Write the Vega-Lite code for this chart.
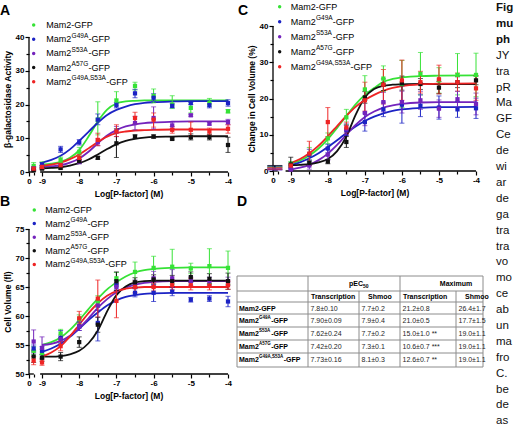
{
  "$schema": "https://vega.github.io/schema/vega-lite/v6.json",
  "background": "white",
  "padding": {"left": 0, "top": 0, "right": 0, "bottom": 0},
  "config": {
    "font": "Liberation Sans",
    "view": {"stroke": null},
    "axis": {
      "grid": false, "labelFont": "Liberation Sans", "titleFont": "Liberation Sans",
      "labelFontWeight": "bold", "titleFontWeight": "bold", "labelFontSize": 8, "titleFontSize": 8.5,
      "labelColor": "black", "titleColor": "black", "domainColor": "black", "tickColor": "black",
      "domainWidth": 1.3, "tickWidth": 1.2, "tickSize": 4, "labelPadding": 1,
      "labelOverlap": false, "labelFlush": false
    },
    "axisX": {"titlePadding": 4},
    "axisY": {"titlePadding": 3},
    "title": {"font": "Liberation Sans", "fontSize": 14, "fontWeight": "bold", "color": "black", "anchor": "start", "frame": "group"},
    "text": {"color": "black"}
  },
  "datasets": {
    "legend": [
      {"rank": 0, "variant": "Mam2-GFP", "base": "Mam2-GFP", "sup": "", "suffix": ""},
      {"rank": 1, "variant": "G49A", "base": "Mam2", "sup": "G49A", "suffix": "-GFP"},
      {"rank": 2, "variant": "S53A", "base": "Mam2", "sup": "S53A", "suffix": "-GFP"},
      {"rank": 3, "variant": "A57G", "base": "Mam2", "sup": "A57G", "suffix": "-GFP"},
      {"rank": 4, "variant": "G49A,S53A", "base": "Mam2", "sup": "G49A,S53A", "suffix": "-GFP"}
    ],
    "points": [
      {"panel": "A", "variant": "Mam2-GFP", "logP": -9.225, "mean": 1.8, "lo": 1.0, "hi": 2.8, "control": true},
      {"panel": "A", "variant": "Mam2-GFP", "logP": -9, "mean": 2.2, "lo": 1.5, "hi": 3.0},
      {"panel": "A", "variant": "Mam2-GFP", "logP": -8.5, "mean": 3.6, "lo": 2.8, "hi": 4.4},
      {"panel": "A", "variant": "Mam2-GFP", "logP": -8, "mean": 6.0, "lo": 4.8, "hi": 7.3},
      {"panel": "A", "variant": "Mam2-GFP", "logP": -7.5, "mean": 15.5, "lo": 11.0, "hi": 20.8},
      {"panel": "A", "variant": "Mam2-GFP", "logP": -7, "mean": 21.2, "lo": 19.8, "hi": 23.8},
      {"panel": "A", "variant": "Mam2-GFP", "logP": -6.5, "mean": 25.5, "lo": 24.3, "hi": 26.6},
      {"panel": "A", "variant": "Mam2-GFP", "logP": -6, "mean": 22.5, "lo": 20.5, "hi": 24.6},
      {"panel": "A", "variant": "Mam2-GFP", "logP": -5.5, "mean": 20.0, "lo": 18.8, "hi": 22.6},
      {"panel": "A", "variant": "Mam2-GFP", "logP": -5, "mean": 19.0, "lo": 17.5, "hi": 20.6},
      {"panel": "A", "variant": "Mam2-GFP", "logP": -4.5, "mean": 20.5, "lo": 19.5, "hi": 21.8},
      {"panel": "A", "variant": "Mam2-GFP", "logP": -4, "mean": 18.0, "lo": 17.5, "hi": 18.5},
      {"panel": "A", "variant": "G49A", "logP": -9.225, "mean": 1.0, "lo": 0.5, "hi": 1.5, "control": true},
      {"panel": "A", "variant": "G49A", "logP": -9, "mean": 2.3, "lo": 1.8, "hi": 2.8},
      {"panel": "A", "variant": "G49A", "logP": -8.5, "mean": 6.7, "lo": 5.8, "hi": 7.6},
      {"panel": "A", "variant": "G49A", "logP": -8, "mean": 8.8, "lo": 8.0, "hi": 9.6},
      {"panel": "A", "variant": "G49A", "logP": -7.5, "mean": 15.5, "lo": 14.0, "hi": 17.2},
      {"panel": "A", "variant": "G49A", "logP": -7, "mean": 19.8, "lo": 19.0, "hi": 20.6},
      {"panel": "A", "variant": "G49A", "logP": -6.5, "mean": 23.3, "lo": 22.0, "hi": 24.5},
      {"panel": "A", "variant": "G49A", "logP": -6, "mean": 22.0, "lo": 21.0, "hi": 23.2},
      {"panel": "A", "variant": "G49A", "logP": -5.5, "mean": 19.6, "lo": 19.0, "hi": 20.2},
      {"panel": "A", "variant": "G49A", "logP": -5, "mean": 20.4, "lo": 20.0, "hi": 20.8},
      {"panel": "A", "variant": "G49A", "logP": -4.5, "mean": 19.8, "lo": 19.0, "hi": 21.0},
      {"panel": "A", "variant": "G49A", "logP": -4, "mean": 20.4, "lo": 19.5, "hi": 21.4},
      {"panel": "A", "variant": "S53A", "logP": -9.225, "mean": 1.0, "lo": 0.6, "hi": 1.4, "control": true},
      {"panel": "A", "variant": "S53A", "logP": -9, "mean": 1.5, "lo": 1.1, "hi": 1.9},
      {"panel": "A", "variant": "S53A", "logP": -8.5, "mean": 2.0, "lo": 1.6, "hi": 2.4},
      {"panel": "A", "variant": "S53A", "logP": -8, "mean": 3.0, "lo": 2.4, "hi": 3.6},
      {"panel": "A", "variant": "S53A", "logP": -7.5, "mean": 8.8, "lo": 7.8, "hi": 9.8},
      {"panel": "A", "variant": "S53A", "logP": -7, "mean": 12.0, "lo": 10.5, "hi": 13.5},
      {"panel": "A", "variant": "S53A", "logP": -6.5, "mean": 14.5, "lo": 12.5, "hi": 16.5},
      {"panel": "A", "variant": "S53A", "logP": -6, "mean": 16.0, "lo": 12.8, "hi": 19.3},
      {"panel": "A", "variant": "S53A", "logP": -5.5, "mean": 13.8, "lo": 12.8, "hi": 14.8},
      {"panel": "A", "variant": "S53A", "logP": -5, "mean": 16.8, "lo": 16.5, "hi": 17.1},
      {"panel": "A", "variant": "S53A", "logP": -4.5, "mean": 14.3, "lo": 13.9, "hi": 14.7},
      {"panel": "A", "variant": "S53A", "logP": -4, "mean": 14.8, "lo": 14.0, "hi": 15.6},
      {"panel": "A", "variant": "A57G", "logP": -9.225, "mean": 0.5, "lo": 0.2, "hi": 0.8, "control": true},
      {"panel": "A", "variant": "A57G", "logP": -9, "mean": 1.0, "lo": 0.7, "hi": 1.3},
      {"panel": "A", "variant": "A57G", "logP": -8.5, "mean": 1.2, "lo": 0.9, "hi": 1.5},
      {"panel": "A", "variant": "A57G", "logP": -8, "mean": 3.2, "lo": 2.6, "hi": 3.8},
      {"panel": "A", "variant": "A57G", "logP": -7.5, "mean": 4.2, "lo": 3.8, "hi": 4.6},
      {"panel": "A", "variant": "A57G", "logP": -7, "mean": 8.5, "lo": 4.3, "hi": 12.8},
      {"panel": "A", "variant": "A57G", "logP": -6.5, "mean": 10.5, "lo": 10.0, "hi": 11.0},
      {"panel": "A", "variant": "A57G", "logP": -6, "mean": 10.5, "lo": 10.0, "hi": 11.0},
      {"panel": "A", "variant": "A57G", "logP": -5.5, "mean": 9.8, "lo": 9.5, "hi": 10.1},
      {"panel": "A", "variant": "A57G", "logP": -5, "mean": 10.3, "lo": 9.5, "hi": 11.3},
      {"panel": "A", "variant": "A57G", "logP": -4.5, "mean": 10.3, "lo": 9.5, "hi": 11.2},
      {"panel": "A", "variant": "A57G", "logP": -4, "mean": 8.0, "lo": 5.8, "hi": 10.3},
      {"panel": "A", "variant": "G49A,S53A", "logP": -9.225, "mean": 1.0, "lo": 0.5, "hi": 1.5, "control": true},
      {"panel": "A", "variant": "G49A,S53A", "logP": -9, "mean": 1.5, "lo": 1.0, "hi": 2.0},
      {"panel": "A", "variant": "G49A,S53A", "logP": -8.5, "mean": 2.0, "lo": 1.5, "hi": 2.5},
      {"panel": "A", "variant": "G49A,S53A", "logP": -8, "mean": 4.2, "lo": 3.2, "hi": 5.2},
      {"panel": "A", "variant": "G49A,S53A", "logP": -7.5, "mean": 9.5, "lo": 7.8, "hi": 11.5},
      {"panel": "A", "variant": "G49A,S53A", "logP": -7, "mean": 12.0, "lo": 10.5, "hi": 14.0},
      {"panel": "A", "variant": "G49A,S53A", "logP": -6.5, "mean": 16.0, "lo": 14.3, "hi": 17.7},
      {"panel": "A", "variant": "G49A,S53A", "logP": -6, "mean": 15.5, "lo": 13.3, "hi": 17.5},
      {"panel": "A", "variant": "G49A,S53A", "logP": -5.5, "mean": 12.5, "lo": 11.5, "hi": 13.5},
      {"panel": "A", "variant": "G49A,S53A", "logP": -5, "mean": 12.5, "lo": 10.5, "hi": 14.8},
      {"panel": "A", "variant": "G49A,S53A", "logP": -4.5, "mean": 12.0, "lo": 11.0, "hi": 13.0},
      {"panel": "A", "variant": "G49A,S53A", "logP": -4, "mean": 12.8, "lo": 11.5, "hi": 14.0},

      {"panel": "B", "variant": "Mam2-GFP", "logP": -9.225, "mean": 54.0, "lo": 53.3, "hi": 54.7, "control": true},
      {"panel": "B", "variant": "Mam2-GFP", "logP": -9, "mean": 53.6, "lo": 52.9, "hi": 54.3},
      {"panel": "B", "variant": "Mam2-GFP", "logP": -8.5, "mean": 57.0, "lo": 56.3, "hi": 57.7},
      {"panel": "B", "variant": "Mam2-GFP", "logP": -8, "mean": 59.5, "lo": 58.8, "hi": 60.2},
      {"panel": "B", "variant": "Mam2-GFP", "logP": -7.5, "mean": 62.5, "lo": 61.5, "hi": 63.5},
      {"panel": "B", "variant": "Mam2-GFP", "logP": -7, "mean": 66.5, "lo": 65.5, "hi": 67.5},
      {"panel": "B", "variant": "Mam2-GFP", "logP": -6.5, "mean": 67.6, "lo": 66.0, "hi": 69.3},
      {"panel": "B", "variant": "Mam2-GFP", "logP": -6, "mean": 68.3, "lo": 66.2, "hi": 70.3},
      {"panel": "B", "variant": "Mam2-GFP", "logP": -5.5, "mean": 68.5, "lo": 65.5, "hi": 71.5},
      {"panel": "B", "variant": "Mam2-GFP", "logP": -5, "mean": 68.2, "lo": 67.3, "hi": 69.1},
      {"panel": "B", "variant": "Mam2-GFP", "logP": -4.5, "mean": 68.6, "lo": 65.6, "hi": 71.6},
      {"panel": "B", "variant": "Mam2-GFP", "logP": -4, "mean": 68.3, "lo": 65.4, "hi": 71.2},
      {"panel": "B", "variant": "G49A", "logP": -9.225, "mean": 54.4, "lo": 53.8, "hi": 55.0, "control": true},
      {"panel": "B", "variant": "G49A", "logP": -9, "mean": 54.0, "lo": 53.3, "hi": 54.7},
      {"panel": "B", "variant": "G49A", "logP": -8.5, "mean": 56.2, "lo": 55.5, "hi": 57.5},
      {"panel": "B", "variant": "G49A", "logP": -8, "mean": 58.2, "lo": 57.5, "hi": 59.0},
      {"panel": "B", "variant": "G49A", "logP": -7.5, "mean": 58.8, "lo": 55.7, "hi": 61.0},
      {"panel": "B", "variant": "G49A", "logP": -7, "mean": 65.3, "lo": 64.5, "hi": 66.1},
      {"panel": "B", "variant": "G49A", "logP": -6.5, "mean": 64.0, "lo": 63.3, "hi": 64.7},
      {"panel": "B", "variant": "G49A", "logP": -6, "mean": 64.0, "lo": 62.5, "hi": 65.5},
      {"panel": "B", "variant": "G49A", "logP": -5.5, "mean": 64.2, "lo": 63.5, "hi": 64.9},
      {"panel": "B", "variant": "G49A", "logP": -5, "mean": 62.8, "lo": 62.4, "hi": 63.2},
      {"panel": "B", "variant": "G49A", "logP": -4.5, "mean": 63.0, "lo": 62.5, "hi": 63.5},
      {"panel": "B", "variant": "G49A", "logP": -4, "mean": 62.5, "lo": 61.6, "hi": 63.4},
      {"panel": "B", "variant": "S53A", "logP": -9.225, "mean": 55.6, "lo": 53.6, "hi": 57.6, "control": true},
      {"panel": "B", "variant": "S53A", "logP": -9, "mean": 54.5, "lo": 52.6, "hi": 56.4},
      {"panel": "B", "variant": "S53A", "logP": -8.5, "mean": 56.0, "lo": 55.3, "hi": 56.7},
      {"panel": "B", "variant": "S53A", "logP": -8, "mean": 58.2, "lo": 57.5, "hi": 58.9},
      {"panel": "B", "variant": "S53A", "logP": -7.5, "mean": 61.8, "lo": 61.0, "hi": 62.6},
      {"panel": "B", "variant": "S53A", "logP": -7, "mean": 65.0, "lo": 64.3, "hi": 65.7},
      {"panel": "B", "variant": "S53A", "logP": -6.5, "mean": 65.5, "lo": 64.8, "hi": 66.2},
      {"panel": "B", "variant": "S53A", "logP": -6, "mean": 66.5, "lo": 65.3, "hi": 67.7},
      {"panel": "B", "variant": "S53A", "logP": -5.5, "mean": 66.5, "lo": 65.0, "hi": 68.0},
      {"panel": "B", "variant": "S53A", "logP": -5, "mean": 66.0, "lo": 65.3, "hi": 66.7},
      {"panel": "B", "variant": "S53A", "logP": -4.5, "mean": 66.0, "lo": 65.3, "hi": 66.7},
      {"panel": "B", "variant": "S53A", "logP": -4, "mean": 66.0, "lo": 65.3, "hi": 66.7},
      {"panel": "B", "variant": "A57G", "logP": -9.225, "mean": 53.0, "lo": 52.0, "hi": 54.0, "control": true},
      {"panel": "B", "variant": "A57G", "logP": -9, "mean": 52.8, "lo": 52.2, "hi": 53.4},
      {"panel": "B", "variant": "A57G", "logP": -8.5, "mean": 53.0, "lo": 52.3, "hi": 53.7},
      {"panel": "B", "variant": "A57G", "logP": -8, "mean": 55.5, "lo": 54.6, "hi": 56.4},
      {"panel": "B", "variant": "A57G", "logP": -7.5, "mean": 58.5, "lo": 57.2, "hi": 59.8},
      {"panel": "B", "variant": "A57G", "logP": -7, "mean": 66.0, "lo": 64.4, "hi": 67.6},
      {"panel": "B", "variant": "A57G", "logP": -6.5, "mean": 65.8, "lo": 65.0, "hi": 66.6},
      {"panel": "B", "variant": "A57G", "logP": -6, "mean": 66.3, "lo": 65.5, "hi": 67.1},
      {"panel": "B", "variant": "A57G", "logP": -5.5, "mean": 66.0, "lo": 65.0, "hi": 67.0},
      {"panel": "B", "variant": "A57G", "logP": -5, "mean": 66.7, "lo": 65.8, "hi": 67.6},
      {"panel": "B", "variant": "A57G", "logP": -4.5, "mean": 66.4, "lo": 65.5, "hi": 67.3},
      {"panel": "B", "variant": "A57G", "logP": -4, "mean": 66.0, "lo": 64.6, "hi": 67.4},
      {"panel": "B", "variant": "G49A,S53A", "logP": -9.225, "mean": 52.3, "lo": 51.6, "hi": 53.0, "control": true},
      {"panel": "B", "variant": "G49A,S53A", "logP": -9, "mean": 52.0, "lo": 51.5, "hi": 52.6},
      {"panel": "B", "variant": "G49A,S53A", "logP": -8.5, "mean": 54.8, "lo": 54.0, "hi": 55.6},
      {"panel": "B", "variant": "G49A,S53A", "logP": -8, "mean": 59.6, "lo": 58.6, "hi": 60.8},
      {"panel": "B", "variant": "G49A,S53A", "logP": -7.5, "mean": 63.0, "lo": 59.8, "hi": 66.2},
      {"panel": "B", "variant": "G49A,S53A", "logP": -7, "mean": 62.6, "lo": 59.7, "hi": 65.5},
      {"panel": "B", "variant": "G49A,S53A", "logP": -6.5, "mean": 65.0, "lo": 64.0, "hi": 66.0},
      {"panel": "B", "variant": "G49A,S53A", "logP": -6, "mean": 65.0, "lo": 64.3, "hi": 65.7},
      {"panel": "B", "variant": "G49A,S53A", "logP": -5.5, "mean": 65.3, "lo": 64.5, "hi": 66.1},
      {"panel": "B", "variant": "G49A,S53A", "logP": -5, "mean": 65.3, "lo": 64.5, "hi": 66.5},
      {"panel": "B", "variant": "G49A,S53A", "logP": -4.5, "mean": 65.2, "lo": 64.5, "hi": 65.9},
      {"panel": "B", "variant": "G49A,S53A", "logP": -4, "mean": 65.3, "lo": 64.6, "hi": 66.0},

      {"panel": "C", "variant": "Mam2-GFP", "logP": -9.43, "mean": 0.8, "lo": 0.5, "hi": 1.1, "control": true},
      {"panel": "C", "variant": "Mam2-GFP", "logP": -9, "mean": 1.8, "lo": 1.0, "hi": 2.6},
      {"panel": "C", "variant": "Mam2-GFP", "logP": -8.5, "mean": 4.5, "lo": 2.5, "hi": 6.5},
      {"panel": "C", "variant": "Mam2-GFP", "logP": -8, "mean": 9.0, "lo": 7.5, "hi": 10.5},
      {"panel": "C", "variant": "Mam2-GFP", "logP": -7.5, "mean": 14.8, "lo": 12.8, "hi": 17.0},
      {"panel": "C", "variant": "Mam2-GFP", "logP": -7, "mean": 22.5, "lo": 19.5, "hi": 26.3},
      {"panel": "C", "variant": "Mam2-GFP", "logP": -6.5, "mean": 25.5, "lo": 22.0, "hi": 29.0},
      {"panel": "C", "variant": "Mam2-GFP", "logP": -6, "mean": 24.0, "lo": 17.5, "hi": 30.5},
      {"panel": "C", "variant": "Mam2-GFP", "logP": -5.5, "mean": 26.8, "lo": 21.0, "hi": 32.7},
      {"panel": "C", "variant": "Mam2-GFP", "logP": -5, "mean": 25.0, "lo": 21.5, "hi": 28.5},
      {"panel": "C", "variant": "Mam2-GFP", "logP": -4.5, "mean": 26.5, "lo": 21.0, "hi": 32.4},
      {"panel": "C", "variant": "Mam2-GFP", "logP": -4, "mean": 26.5, "lo": 20.5, "hi": 32.5},
      {"panel": "C", "variant": "G49A", "logP": -9.43, "mean": 0.9, "lo": 0.4, "hi": 1.4, "control": true},
      {"panel": "C", "variant": "G49A", "logP": -9, "mean": 1.0, "lo": 0.3, "hi": 1.7},
      {"panel": "C", "variant": "G49A", "logP": -8.5, "mean": 4.5, "lo": 3.0, "hi": 6.0},
      {"panel": "C", "variant": "G49A", "logP": -8, "mean": 6.2, "lo": 5.0, "hi": 7.4},
      {"panel": "C", "variant": "G49A", "logP": -7.5, "mean": 11.2, "lo": 9.8, "hi": 12.6},
      {"panel": "C", "variant": "G49A", "logP": -7, "mean": 13.5, "lo": 11.0, "hi": 16.0},
      {"panel": "C", "variant": "G49A", "logP": -6.5, "mean": 17.0, "lo": 15.0, "hi": 19.0},
      {"panel": "C", "variant": "G49A", "logP": -6, "mean": 18.3, "lo": 13.2, "hi": 23.5},
      {"panel": "C", "variant": "G49A", "logP": -5.5, "mean": 18.0, "lo": 15.0, "hi": 21.0},
      {"panel": "C", "variant": "G49A", "logP": -5, "mean": 17.5, "lo": 14.3, "hi": 20.7},
      {"panel": "C", "variant": "G49A", "logP": -4.5, "mean": 17.0, "lo": 14.8, "hi": 19.2},
      {"panel": "C", "variant": "G49A", "logP": -4, "mean": 17.3, "lo": 14.5, "hi": 20.1},
      {"panel": "C", "variant": "S53A", "logP": -9.43, "mean": 0.5, "lo": 0.3, "hi": 0.7, "control": true},
      {"panel": "C", "variant": "S53A", "logP": -9, "mean": 0.4, "lo": 0.1, "hi": 0.7},
      {"panel": "C", "variant": "S53A", "logP": -8.5, "mean": 1.5, "lo": 0.5, "hi": 2.5},
      {"panel": "C", "variant": "S53A", "logP": -8, "mean": 4.5, "lo": 3.0, "hi": 6.0},
      {"panel": "C", "variant": "S53A", "logP": -7.5, "mean": 11.5, "lo": 10.0, "hi": 13.0},
      {"panel": "C", "variant": "S53A", "logP": -7, "mean": 16.0, "lo": 12.5, "hi": 19.5},
      {"panel": "C", "variant": "S53A", "logP": -6.5, "mean": 19.0, "lo": 16.3, "hi": 21.7},
      {"panel": "C", "variant": "S53A", "logP": -6, "mean": 19.0, "lo": 16.0, "hi": 22.0},
      {"panel": "C", "variant": "S53A", "logP": -5.5, "mean": 19.5, "lo": 17.0, "hi": 22.0},
      {"panel": "C", "variant": "S53A", "logP": -5, "mean": 17.2, "lo": 14.8, "hi": 19.6},
      {"panel": "C", "variant": "S53A", "logP": -4.5, "mean": 19.8, "lo": 17.5, "hi": 22.0},
      {"panel": "C", "variant": "S53A", "logP": -4, "mean": 18.5, "lo": 15.5, "hi": 21.5},
      {"panel": "C", "variant": "A57G", "logP": -9.43, "mean": 1.3, "lo": 1.1, "hi": 1.5, "control": true},
      {"panel": "C", "variant": "A57G", "logP": -9, "mean": 1.8, "lo": 0.0, "hi": 3.8},
      {"panel": "C", "variant": "A57G", "logP": -8.5, "mean": 2.2, "lo": 1.5, "hi": 3.0},
      {"panel": "C", "variant": "A57G", "logP": -8, "mean": 2.6, "lo": 2.0, "hi": 3.2},
      {"panel": "C", "variant": "A57G", "logP": -7.5, "mean": 8.0, "lo": 6.5, "hi": 9.5},
      {"panel": "C", "variant": "A57G", "logP": -7, "mean": 20.3, "lo": 18.7, "hi": 21.9},
      {"panel": "C", "variant": "A57G", "logP": -6.5, "mean": 23.8, "lo": 22.2, "hi": 25.4},
      {"panel": "C", "variant": "A57G", "logP": -6, "mean": 24.2, "lo": 22.3, "hi": 26.2},
      {"panel": "C", "variant": "A57G", "logP": -5.5, "mean": 24.0, "lo": 22.5, "hi": 25.5},
      {"panel": "C", "variant": "A57G", "logP": -5, "mean": 23.0, "lo": 21.3, "hi": 24.7},
      {"panel": "C", "variant": "A57G", "logP": -4.5, "mean": 24.5, "lo": 23.0, "hi": 26.0},
      {"panel": "C", "variant": "A57G", "logP": -4, "mean": 25.0, "lo": 23.8, "hi": 26.2},
      {"panel": "C", "variant": "G49A,S53A", "logP": -9.43, "mean": 0.7, "lo": 0.5, "hi": 0.9, "control": true},
      {"panel": "C", "variant": "G49A,S53A", "logP": -9, "mean": 1.5, "lo": 1.0, "hi": 2.0},
      {"panel": "C", "variant": "G49A,S53A", "logP": -8.5, "mean": 4.8, "lo": 1.5, "hi": 8.2},
      {"panel": "C", "variant": "G49A,S53A", "logP": -8, "mean": 13.5, "lo": 9.5, "hi": 17.5},
      {"panel": "C", "variant": "G49A,S53A", "logP": -7.5, "mean": 12.0, "lo": 10.5, "hi": 13.5},
      {"panel": "C", "variant": "G49A,S53A", "logP": -7, "mean": 19.5, "lo": 16.5, "hi": 24.5},
      {"panel": "C", "variant": "G49A,S53A", "logP": -6.5, "mean": 23.8, "lo": 18.5, "hi": 28.0},
      {"panel": "C", "variant": "G49A,S53A", "logP": -6, "mean": 25.0, "lo": 19.5, "hi": 30.6},
      {"panel": "C", "variant": "G49A,S53A", "logP": -5.5, "mean": 24.5, "lo": 21.5, "hi": 27.5},
      {"panel": "C", "variant": "G49A,S53A", "logP": -5, "mean": 25.3, "lo": 21.3, "hi": 29.2},
      {"panel": "C", "variant": "G49A,S53A", "logP": -4.5, "mean": 24.5, "lo": 22.0, "hi": 27.0},
      {"panel": "C", "variant": "G49A,S53A", "logP": -4, "mean": 22.8, "lo": 19.5, "hi": 26.3}
    ],
    "fits": [
      {"panel": "A", "variant": "Mam2-GFP", "logP": -9, "fit": 2.2}, {"panel": "A", "variant": "Mam2-GFP", "logP": -8.75, "fit": 2.5}, {"panel": "A", "variant": "Mam2-GFP", "logP": -8.5, "fit": 3.0}, {"panel": "A", "variant": "Mam2-GFP", "logP": -8.25, "fit": 4.2}, {"panel": "A", "variant": "Mam2-GFP", "logP": -8, "fit": 6.5}, {"panel": "A", "variant": "Mam2-GFP", "logP": -7.75, "fit": 10.5}, {"panel": "A", "variant": "Mam2-GFP", "logP": -7.5, "fit": 15.0}, {"panel": "A", "variant": "Mam2-GFP", "logP": -7.25, "fit": 18.5}, {"panel": "A", "variant": "Mam2-GFP", "logP": -7, "fit": 20.3}, {"panel": "A", "variant": "Mam2-GFP", "logP": -6.75, "fit": 20.9}, {"panel": "A", "variant": "Mam2-GFP", "logP": -6.5, "fit": 21.1}, {"panel": "A", "variant": "Mam2-GFP", "logP": -6.25, "fit": 21.2}, {"panel": "A", "variant": "Mam2-GFP", "logP": -6, "fit": 21.2}, {"panel": "A", "variant": "Mam2-GFP", "logP": -5.5, "fit": 21.2}, {"panel": "A", "variant": "Mam2-GFP", "logP": -5, "fit": 21.2}, {"panel": "A", "variant": "Mam2-GFP", "logP": -4, "fit": 21.2},
      {"panel": "A", "variant": "G49A", "logP": -9, "fit": 2.8}, {"panel": "A", "variant": "G49A", "logP": -8.75, "fit": 3.6}, {"panel": "A", "variant": "G49A", "logP": -8.5, "fit": 4.8}, {"panel": "A", "variant": "G49A", "logP": -8.25, "fit": 6.7}, {"panel": "A", "variant": "G49A", "logP": -8, "fit": 9.2}, {"panel": "A", "variant": "G49A", "logP": -7.75, "fit": 11.9}, {"panel": "A", "variant": "G49A", "logP": -7.5, "fit": 14.6}, {"panel": "A", "variant": "G49A", "logP": -7.25, "fit": 16.9}, {"panel": "A", "variant": "G49A", "logP": -7, "fit": 18.4}, {"panel": "A", "variant": "G49A", "logP": -6.75, "fit": 19.4}, {"panel": "A", "variant": "G49A", "logP": -6.5, "fit": 20.1}, {"panel": "A", "variant": "G49A", "logP": -6.25, "fit": 20.5}, {"panel": "A", "variant": "G49A", "logP": -6, "fit": 20.7}, {"panel": "A", "variant": "G49A", "logP": -5.5, "fit": 20.9}, {"panel": "A", "variant": "G49A", "logP": -5, "fit": 21.0}, {"panel": "A", "variant": "G49A", "logP": -4, "fit": 21.0},
      {"panel": "A", "variant": "S53A", "logP": -9, "fit": 1.5}, {"panel": "A", "variant": "S53A", "logP": -8.75, "fit": 1.7}, {"panel": "A", "variant": "S53A", "logP": -8.5, "fit": 2.0}, {"panel": "A", "variant": "S53A", "logP": -8.25, "fit": 2.8}, {"panel": "A", "variant": "S53A", "logP": -8, "fit": 4.0}, {"panel": "A", "variant": "S53A", "logP": -7.75, "fit": 6.0}, {"panel": "A", "variant": "S53A", "logP": -7.5, "fit": 8.5}, {"panel": "A", "variant": "S53A", "logP": -7.25, "fit": 10.8}, {"panel": "A", "variant": "S53A", "logP": -7, "fit": 12.4}, {"panel": "A", "variant": "S53A", "logP": -6.75, "fit": 13.5}, {"panel": "A", "variant": "S53A", "logP": -6.5, "fit": 14.1}, {"panel": "A", "variant": "S53A", "logP": -6.25, "fit": 14.5}, {"panel": "A", "variant": "S53A", "logP": -6, "fit": 14.7}, {"panel": "A", "variant": "S53A", "logP": -5.5, "fit": 14.9}, {"panel": "A", "variant": "S53A", "logP": -5, "fit": 15.0}, {"panel": "A", "variant": "S53A", "logP": -4, "fit": 15.0},
      {"panel": "A", "variant": "A57G", "logP": -9, "fit": 1.1}, {"panel": "A", "variant": "A57G", "logP": -8.75, "fit": 1.2}, {"panel": "A", "variant": "A57G", "logP": -8.5, "fit": 1.4}, {"panel": "A", "variant": "A57G", "logP": -8.25, "fit": 1.9}, {"panel": "A", "variant": "A57G", "logP": -8, "fit": 2.6}, {"panel": "A", "variant": "A57G", "logP": -7.75, "fit": 3.7}, {"panel": "A", "variant": "A57G", "logP": -7.5, "fit": 5.2}, {"panel": "A", "variant": "A57G", "logP": -7.25, "fit": 6.8}, {"panel": "A", "variant": "A57G", "logP": -7, "fit": 8.2}, {"panel": "A", "variant": "A57G", "logP": -6.75, "fit": 9.2}, {"panel": "A", "variant": "A57G", "logP": -6.5, "fit": 9.8}, {"panel": "A", "variant": "A57G", "logP": -6.25, "fit": 10.2}, {"panel": "A", "variant": "A57G", "logP": -6, "fit": 10.4}, {"panel": "A", "variant": "A57G", "logP": -5.5, "fit": 10.5}, {"panel": "A", "variant": "A57G", "logP": -5, "fit": 10.6}, {"panel": "A", "variant": "A57G", "logP": -4, "fit": 10.6},
      {"panel": "A", "variant": "G49A,S53A", "logP": -9, "fit": 1.8}, {"panel": "A", "variant": "G49A,S53A", "logP": -8.75, "fit": 2.2}, {"panel": "A", "variant": "G49A,S53A", "logP": -8.5, "fit": 2.8}, {"panel": "A", "variant": "G49A,S53A", "logP": -8.25, "fit": 3.8}, {"panel": "A", "variant": "G49A,S53A", "logP": -8, "fit": 5.2}, {"panel": "A", "variant": "G49A,S53A", "logP": -7.75, "fit": 7.0}, {"panel": "A", "variant": "G49A,S53A", "logP": -7.5, "fit": 8.9}, {"panel": "A", "variant": "G49A,S53A", "logP": -7.25, "fit": 10.5}, {"panel": "A", "variant": "G49A,S53A", "logP": -7, "fit": 11.5}, {"panel": "A", "variant": "G49A,S53A", "logP": -6.75, "fit": 12.0}, {"panel": "A", "variant": "G49A,S53A", "logP": -6.5, "fit": 12.3}, {"panel": "A", "variant": "G49A,S53A", "logP": -6.25, "fit": 12.4}, {"panel": "A", "variant": "G49A,S53A", "logP": -6, "fit": 12.5}, {"panel": "A", "variant": "G49A,S53A", "logP": -5.5, "fit": 12.6}, {"panel": "A", "variant": "G49A,S53A", "logP": -5, "fit": 12.6}, {"panel": "A", "variant": "G49A,S53A", "logP": -4, "fit": 12.6},

      {"panel": "B", "variant": "Mam2-GFP", "logP": -9, "fit": 55.0}, {"panel": "B", "variant": "Mam2-GFP", "logP": -8.75, "fit": 55.5}, {"panel": "B", "variant": "Mam2-GFP", "logP": -8.5, "fit": 56.3}, {"panel": "B", "variant": "Mam2-GFP", "logP": -8.25, "fit": 57.6}, {"panel": "B", "variant": "Mam2-GFP", "logP": -8, "fit": 59.3}, {"panel": "B", "variant": "Mam2-GFP", "logP": -7.75, "fit": 61.2}, {"panel": "B", "variant": "Mam2-GFP", "logP": -7.5, "fit": 63.0}, {"panel": "B", "variant": "Mam2-GFP", "logP": -7.25, "fit": 64.6}, {"panel": "B", "variant": "Mam2-GFP", "logP": -7, "fit": 65.8}, {"panel": "B", "variant": "Mam2-GFP", "logP": -6.75, "fit": 66.8}, {"panel": "B", "variant": "Mam2-GFP", "logP": -6.5, "fit": 67.5}, {"panel": "B", "variant": "Mam2-GFP", "logP": -6.25, "fit": 67.9}, {"panel": "B", "variant": "Mam2-GFP", "logP": -6, "fit": 68.1}, {"panel": "B", "variant": "Mam2-GFP", "logP": -5.5, "fit": 68.3}, {"panel": "B", "variant": "Mam2-GFP", "logP": -5, "fit": 68.4}, {"panel": "B", "variant": "Mam2-GFP", "logP": -4, "fit": 68.4},
      {"panel": "B", "variant": "G49A", "logP": -9, "fit": 53.8}, {"panel": "B", "variant": "G49A", "logP": -8.75, "fit": 54.4}, {"panel": "B", "variant": "G49A", "logP": -8.5, "fit": 55.2}, {"panel": "B", "variant": "G49A", "logP": -8.25, "fit": 56.4}, {"panel": "B", "variant": "G49A", "logP": -8, "fit": 57.8}, {"panel": "B", "variant": "G49A", "logP": -7.75, "fit": 59.3}, {"panel": "B", "variant": "G49A", "logP": -7.5, "fit": 60.6}, {"panel": "B", "variant": "G49A", "logP": -7.25, "fit": 61.8}, {"panel": "B", "variant": "G49A", "logP": -7, "fit": 62.7}, {"panel": "B", "variant": "G49A", "logP": -6.75, "fit": 63.3}, {"panel": "B", "variant": "G49A", "logP": -6.5, "fit": 63.6}, {"panel": "B", "variant": "G49A", "logP": -6.25, "fit": 63.8}, {"panel": "B", "variant": "G49A", "logP": -6, "fit": 63.9}, {"panel": "B", "variant": "G49A", "logP": -5.5, "fit": 64.0}, {"panel": "B", "variant": "G49A", "logP": -5, "fit": 64.0}, {"panel": "B", "variant": "G49A", "logP": -4, "fit": 64.0},
      {"panel": "B", "variant": "S53A", "logP": -9, "fit": 55.0}, {"panel": "B", "variant": "S53A", "logP": -8.75, "fit": 55.2}, {"panel": "B", "variant": "S53A", "logP": -8.5, "fit": 55.7}, {"panel": "B", "variant": "S53A", "logP": -8.25, "fit": 56.6}, {"panel": "B", "variant": "S53A", "logP": -8, "fit": 57.9}, {"panel": "B", "variant": "S53A", "logP": -7.75, "fit": 59.6}, {"panel": "B", "variant": "S53A", "logP": -7.5, "fit": 61.4}, {"panel": "B", "variant": "S53A", "logP": -7.25, "fit": 62.9}, {"panel": "B", "variant": "S53A", "logP": -7, "fit": 64.1}, {"panel": "B", "variant": "S53A", "logP": -6.75, "fit": 64.9}, {"panel": "B", "variant": "S53A", "logP": -6.5, "fit": 65.4}, {"panel": "B", "variant": "S53A", "logP": -6.25, "fit": 65.7}, {"panel": "B", "variant": "S53A", "logP": -6, "fit": 65.9}, {"panel": "B", "variant": "S53A", "logP": -5.5, "fit": 66.0}, {"panel": "B", "variant": "S53A", "logP": -5, "fit": 66.0}, {"panel": "B", "variant": "S53A", "logP": -4, "fit": 66.0},
      {"panel": "B", "variant": "A57G", "logP": -9, "fit": 53.0}, {"panel": "B", "variant": "A57G", "logP": -8.75, "fit": 53.0}, {"panel": "B", "variant": "A57G", "logP": -8.5, "fit": 53.1}, {"panel": "B", "variant": "A57G", "logP": -8.25, "fit": 53.4}, {"panel": "B", "variant": "A57G", "logP": -8, "fit": 54.0}, {"panel": "B", "variant": "A57G", "logP": -7.75, "fit": 55.3}, {"panel": "B", "variant": "A57G", "logP": -7.5, "fit": 57.5}, {"panel": "B", "variant": "A57G", "logP": -7.25, "fit": 60.8}, {"panel": "B", "variant": "A57G", "logP": -7, "fit": 63.6}, {"panel": "B", "variant": "A57G", "logP": -6.75, "fit": 65.1}, {"panel": "B", "variant": "A57G", "logP": -6.5, "fit": 65.8}, {"panel": "B", "variant": "A57G", "logP": -6.25, "fit": 66.0}, {"panel": "B", "variant": "A57G", "logP": -6, "fit": 66.1}, {"panel": "B", "variant": "A57G", "logP": -5.5, "fit": 66.1}, {"panel": "B", "variant": "A57G", "logP": -5, "fit": 66.1}, {"panel": "B", "variant": "A57G", "logP": -4, "fit": 66.1},
      {"panel": "B", "variant": "G49A,S53A", "logP": -9, "fit": 53.0}, {"panel": "B", "variant": "G49A,S53A", "logP": -8.75, "fit": 53.7}, {"panel": "B", "variant": "G49A,S53A", "logP": -8.5, "fit": 54.8}, {"panel": "B", "variant": "G49A,S53A", "logP": -8.25, "fit": 56.5}, {"panel": "B", "variant": "G49A,S53A", "logP": -8, "fit": 58.5}, {"panel": "B", "variant": "G49A,S53A", "logP": -7.75, "fit": 60.5}, {"panel": "B", "variant": "G49A,S53A", "logP": -7.5, "fit": 62.2}, {"panel": "B", "variant": "G49A,S53A", "logP": -7.25, "fit": 63.5}, {"panel": "B", "variant": "G49A,S53A", "logP": -7, "fit": 64.3}, {"panel": "B", "variant": "G49A,S53A", "logP": -6.75, "fit": 64.7}, {"panel": "B", "variant": "G49A,S53A", "logP": -6.5, "fit": 64.9}, {"panel": "B", "variant": "G49A,S53A", "logP": -6.25, "fit": 65.0}, {"panel": "B", "variant": "G49A,S53A", "logP": -6, "fit": 65.0}, {"panel": "B", "variant": "G49A,S53A", "logP": -5.5, "fit": 65.0}, {"panel": "B", "variant": "G49A,S53A", "logP": -5, "fit": 65.0}, {"panel": "B", "variant": "G49A,S53A", "logP": -4, "fit": 65.0},

      {"panel": "C", "variant": "Mam2-GFP", "logP": -9, "fit": 2.0}, {"panel": "C", "variant": "Mam2-GFP", "logP": -8.75, "fit": 2.9}, {"panel": "C", "variant": "Mam2-GFP", "logP": -8.5, "fit": 4.3}, {"panel": "C", "variant": "Mam2-GFP", "logP": -8.25, "fit": 6.2}, {"panel": "C", "variant": "Mam2-GFP", "logP": -8, "fit": 8.8}, {"panel": "C", "variant": "Mam2-GFP", "logP": -7.75, "fit": 11.9}, {"panel": "C", "variant": "Mam2-GFP", "logP": -7.5, "fit": 15.2}, {"panel": "C", "variant": "Mam2-GFP", "logP": -7.25, "fit": 18.4}, {"panel": "C", "variant": "Mam2-GFP", "logP": -7, "fit": 21.0}, {"panel": "C", "variant": "Mam2-GFP", "logP": -6.75, "fit": 22.9}, {"panel": "C", "variant": "Mam2-GFP", "logP": -6.5, "fit": 24.6}, {"panel": "C", "variant": "Mam2-GFP", "logP": -6.25, "fit": 25.4}, {"panel": "C", "variant": "Mam2-GFP", "logP": -6, "fit": 25.8}, {"panel": "C", "variant": "Mam2-GFP", "logP": -5.5, "fit": 26.2}, {"panel": "C", "variant": "Mam2-GFP", "logP": -5, "fit": 26.3}, {"panel": "C", "variant": "Mam2-GFP", "logP": -4, "fit": 26.4},
      {"panel": "C", "variant": "G49A", "logP": -9, "fit": 1.6}, {"panel": "C", "variant": "G49A", "logP": -8.75, "fit": 2.4}, {"panel": "C", "variant": "G49A", "logP": -8.5, "fit": 3.5}, {"panel": "C", "variant": "G49A", "logP": -8.25, "fit": 4.9}, {"panel": "C", "variant": "G49A", "logP": -8, "fit": 6.6}, {"panel": "C", "variant": "G49A", "logP": -7.75, "fit": 8.5}, {"panel": "C", "variant": "G49A", "logP": -7.5, "fit": 10.5}, {"panel": "C", "variant": "G49A", "logP": -7.25, "fit": 12.3}, {"panel": "C", "variant": "G49A", "logP": -7, "fit": 13.8}, {"panel": "C", "variant": "G49A", "logP": -6.75, "fit": 15.0}, {"panel": "C", "variant": "G49A", "logP": -6.5, "fit": 15.9}, {"panel": "C", "variant": "G49A", "logP": -6.25, "fit": 16.6}, {"panel": "C", "variant": "G49A", "logP": -6, "fit": 17.0}, {"panel": "C", "variant": "G49A", "logP": -5.5, "fit": 17.4}, {"panel": "C", "variant": "G49A", "logP": -5, "fit": 17.6}, {"panel": "C", "variant": "G49A", "logP": -4, "fit": 17.7},
      {"panel": "C", "variant": "S53A", "logP": -9, "fit": 0.4}, {"panel": "C", "variant": "S53A", "logP": -8.75, "fit": 0.9}, {"panel": "C", "variant": "S53A", "logP": -8.5, "fit": 1.7}, {"panel": "C", "variant": "S53A", "logP": -8.25, "fit": 3.0}, {"panel": "C", "variant": "S53A", "logP": -8, "fit": 4.8}, {"panel": "C", "variant": "S53A", "logP": -7.75, "fit": 7.2}, {"panel": "C", "variant": "S53A", "logP": -7.5, "fit": 10.0}, {"panel": "C", "variant": "S53A", "logP": -7.25, "fit": 12.7}, {"panel": "C", "variant": "S53A", "logP": -7, "fit": 14.9}, {"panel": "C", "variant": "S53A", "logP": -6.75, "fit": 16.4}, {"panel": "C", "variant": "S53A", "logP": -6.5, "fit": 17.5}, {"panel": "C", "variant": "S53A", "logP": -6.25, "fit": 18.1}, {"panel": "C", "variant": "S53A", "logP": -6, "fit": 18.5}, {"panel": "C", "variant": "S53A", "logP": -5.5, "fit": 18.9}, {"panel": "C", "variant": "S53A", "logP": -5, "fit": 19.0}, {"panel": "C", "variant": "S53A", "logP": -4, "fit": 19.0},
      {"panel": "C", "variant": "A57G", "logP": -9, "fit": 1.6}, {"panel": "C", "variant": "A57G", "logP": -8.75, "fit": 1.7}, {"panel": "C", "variant": "A57G", "logP": -8.5, "fit": 1.9}, {"panel": "C", "variant": "A57G", "logP": -8.25, "fit": 2.4}, {"panel": "C", "variant": "A57G", "logP": -8, "fit": 3.3}, {"panel": "C", "variant": "A57G", "logP": -7.75, "fit": 5.5}, {"panel": "C", "variant": "A57G", "logP": -7.5, "fit": 9.5}, {"panel": "C", "variant": "A57G", "logP": -7.25, "fit": 15.5}, {"panel": "C", "variant": "A57G", "logP": -7, "fit": 20.3}, {"panel": "C", "variant": "A57G", "logP": -6.75, "fit": 22.6}, {"panel": "C", "variant": "A57G", "logP": -6.5, "fit": 23.5}, {"panel": "C", "variant": "A57G", "logP": -6.25, "fit": 23.8}, {"panel": "C", "variant": "A57G", "logP": -6, "fit": 23.9}, {"panel": "C", "variant": "A57G", "logP": -5.5, "fit": 24.0}, {"panel": "C", "variant": "A57G", "logP": -5, "fit": 24.0}, {"panel": "C", "variant": "A57G", "logP": -4, "fit": 24.0},
      {"panel": "C", "variant": "G49A,S53A", "logP": -9, "fit": 2.2}, {"panel": "C", "variant": "G49A,S53A", "logP": -8.75, "fit": 3.3}, {"panel": "C", "variant": "G49A,S53A", "logP": -8.5, "fit": 4.9}, {"panel": "C", "variant": "G49A,S53A", "logP": -8.25, "fit": 7.0}, {"panel": "C", "variant": "G49A,S53A", "logP": -8, "fit": 9.6}, {"panel": "C", "variant": "G49A,S53A", "logP": -7.75, "fit": 12.4}, {"panel": "C", "variant": "G49A,S53A", "logP": -7.5, "fit": 15.2}, {"panel": "C", "variant": "G49A,S53A", "logP": -7.25, "fit": 17.7}, {"panel": "C", "variant": "G49A,S53A", "logP": -7, "fit": 19.6}, {"panel": "C", "variant": "G49A,S53A", "logP": -6.75, "fit": 21.0}, {"panel": "C", "variant": "G49A,S53A", "logP": -6.5, "fit": 22.1}, {"panel": "C", "variant": "G49A,S53A", "logP": -6.25, "fit": 22.9}, {"panel": "C", "variant": "G49A,S53A", "logP": -6, "fit": 23.4}, {"panel": "C", "variant": "G49A,S53A", "logP": -5.5, "fit": 23.9}, {"panel": "C", "variant": "G49A,S53A", "logP": -5, "fit": 24.1}, {"panel": "C", "variant": "G49A,S53A", "logP": -4, "fit": 24.2}
    ],
    "tableGrid": [
      {"dir": "h", "edge": 0}, {"dir": "h", "edge": 1}, {"dir": "h", "edge": 2}, {"dir": "h", "edge": 3},
      {"dir": "h", "edge": 4}, {"dir": "h", "edge": 5}, {"dir": "h", "edge": 6}, {"dir": "h", "edge": 7},
      {"dir": "v", "edge": 0, "from": 0, "to": 7}, {"dir": "v", "edge": 1, "from": 0, "to": 7},
      {"dir": "v", "edge": 2, "from": 1, "to": 7}, {"dir": "v", "edge": 3, "from": 0, "to": 7},
      {"dir": "v", "edge": 4, "from": 1, "to": 7}, {"dir": "v", "edge": 5, "from": 0, "to": 7}
    ],
    "tableHead": [
      {"row": 0, "col": 2, "text": "pEC", "sub": "50"},
      {"row": 0, "col": 4, "text": "Maximum", "sub": ""},
      {"row": 1, "col": 1, "text": "Transcription", "sub": ""},
      {"row": 1, "col": 2, "text": "Shmoo", "sub": ""},
      {"row": 1, "col": 3, "text": "Transcription", "sub": ""},
      {"row": 1, "col": 4, "text": "Shmoo", "sub": ""}
    ],
    "tableNames": [
      {"row": 2, "base": "Mam2-GFP", "sup": "", "suffix": ""},
      {"row": 3, "base": "Mam2", "sup": "G49A", "suffix": "-GFP"},
      {"row": 4, "base": "Mam2", "sup": "S53A", "suffix": "-GFP"},
      {"row": 5, "base": "Mam2", "sup": "A57G", "suffix": "-GFP"},
      {"row": 6, "base": "Mam2", "sup": "G49A,S53A", "suffix": "-GFP"}
    ],
    "tableCells": [
      {"row": 2, "col": 1, "text": "7.8±0.10"}, {"row": 2, "col": 2, "text": "7.7±0.2"}, {"row": 2, "col": 3, "text": "21.2±0.8"}, {"row": 2, "col": 4, "text": "26.4±1.7"},
      {"row": 3, "col": 1, "text": "7.90±0.09"}, {"row": 3, "col": 2, "text": "7.9±0.4"}, {"row": 3, "col": 3, "text": "21.0±0.5"}, {"row": 3, "col": 4, "text": "17.7±1.5"},
      {"row": 4, "col": 1, "text": "7.62±0.24"}, {"row": 4, "col": 2, "text": "7.7±0.2"}, {"row": 4, "col": 3, "text": "15.0±1.0 **"}, {"row": 4, "col": 4, "text": "19.0±1.1"},
      {"row": 5, "col": 1, "text": "7.42±0.20"}, {"row": 5, "col": 2, "text": "7.3±0.1"}, {"row": 5, "col": 3, "text": "10.6±0.7 ***"}, {"row": 5, "col": 4, "text": "19.0±1.1"},
      {"row": 6, "col": 1, "text": "7.73±0.16"}, {"row": 6, "col": 2, "text": "8.1±0.3"}, {"row": 6, "col": 3, "text": "12.6±0.7 **"}, {"row": 6, "col": 4, "text": "19.0±1.1"}
    ],
    "caption": [
      {"line": 0, "text": "Fig", "bold": true}, {"line": 1, "text": "mu", "bold": true}, {"line": 2, "text": "ph", "bold": true},
      {"line": 3, "text": "JY", "bold": false}, {"line": 4, "text": "tra", "bold": false}, {"line": 5, "text": "pR", "bold": false},
      {"line": 6, "text": "Ma", "bold": false}, {"line": 7, "text": "GF", "bold": false}, {"line": 8, "text": "Ce", "bold": false},
      {"line": 9, "text": "de", "bold": false}, {"line": 10, "text": "wi", "bold": false}, {"line": 11, "text": "ar", "bold": false},
      {"line": 12, "text": "de", "bold": false}, {"line": 13, "text": "ga", "bold": false}, {"line": 14, "text": "tra", "bold": false},
      {"line": 15, "text": "tra", "bold": false}, {"line": 16, "text": "vo", "bold": false}, {"line": 17, "text": "mo", "bold": false},
      {"line": 18, "text": "ce", "bold": false}, {"line": 19, "text": "ab", "bold": false}, {"line": 20, "text": "un", "bold": false},
      {"line": 21, "text": "ma", "bold": false}, {"line": 22, "text": "fro", "bold": false}, {"line": 23, "text": "C.", "bold": false},
      {"line": 24, "text": "be", "bold": false}, {"line": 25, "text": "de", "bold": false}, {"line": 26, "text": "as", "bold": false}
    ]
  },
  "concat": [
    {
      "width": 199, "height": 146,
      "title": {"text": "A", "dx": -29, "offset": 1},
      "layer": [
        {
          "layer": [
            {
              "data": {"name": "fits"},
              "transform": [{"filter": "datum.panel == 'A'"}],
              "mark": {"type": "line", "interpolate": "monotone", "strokeWidth": 1.8},
              "encoding": {
                "x": {"field": "logP", "type": "quantitative", "title": "Log[P-factor] (M)", "scale": {"domain": [-9.35, -4], "nice": false, "zero": false},
                      "axis": {"orient": "bottom", "values": [-9.35, -9, -8, -7, -6, -5, -4], "labelExpr": "datum.value < -9.3 ? '0' : '-' + abs(datum.value)", "labelOverlap": false, "domain": false}},
                "y": {"field": "fit", "type": "quantitative", "title": "β-galactosidase Activity", "scale": {"domain": [0, 43.26], "nice": false, "zero": false},
                      "axis": {"orient": "left", "values": [0, 10, 20, 30, 40], "labelOverlap": false, "domain": false}},
                "color": {"field": "variant", "type": "nominal", "scale": {"domain": ["Mam2-GFP", "G49A", "S53A", "A57G", "G49A,S53A"], "range": ["#36e236", "#1c23c4", "#7424bc", "#111111", "#ee2424"]}, "legend": null}
              }
            },
            {"data": {"values": [{}]}, "mark": {"type": "rule", "color": "black", "strokeWidth": 1.3},
             "encoding": {"x": {"datum": -9.35, "axis": null}, "y": {"datum": 0, "axis": {"orient": "left", "values": [5, 15, 25, 35], "labels": false, "domain": false, "title": null, "tickSize": 3}}, "y2": {"datum": 40}}},
            {"data": {"values": [{}]}, "mark": {"type": "rule", "color": "black", "strokeWidth": 1.3},
             "encoding": {"x": {"datum": -9.35, "axis": {"orient": "bottom", "values": [-9.22, -8.5, -7.5, -6.5, -5.5, -4.5], "labels": false, "domain": false, "title": null, "tickSize": 3}}, "x2": {"datum": -9.22}, "y": {"datum": 0, "axis": null}}},
            {"data": {"values": [{}]}, "mark": {"type": "rule", "color": "black", "strokeWidth": 1.3},
             "encoding": {"x": {"datum": -9.05, "axis": null}, "x2": {"datum": -4}, "y": {"datum": 0, "axis": null}}},
            {
              "data": {"name": "points"},
              "transform": [{"filter": "datum.panel == 'A'"}],
              "mark": {"type": "errorbar", "ticks": true, "size": 5, "thickness": 1},
              "encoding": {
                "x": {"field": "logP", "type": "quantitative", "axis": null},
                "y": {"field": "lo", "type": "quantitative", "axis": null}, "y2": {"field": "hi"},
                "color": {"field": "variant", "type": "nominal", "legend": null}
              }
            },
            {
              "data": {"name": "points"},
              "transform": [{"filter": "datum.panel == 'A'"}],
              "mark": {"type": "point", "shape": "square", "filled": true, "size": 18, "opacity": 1},
              "encoding": {
                "x": {"field": "logP", "type": "quantitative", "axis": null},
                "y": {"field": "mean", "type": "quantitative", "axis": null},
                "color": {"field": "variant", "type": "nominal", "legend": null}
              }
            }
          ],
          "resolve": {"axis": {"x": "independent", "y": "independent"}}
        },
        {
          "data": {"name": "legend"},
          "encoding": {"y": {"field": "rank", "type": "quantitative", "scale": {"domain": [0.07, 10.352], "reverse": true, "nice": false, "zero": false}, "axis": null}},
          "layer": [
            {"mark": {"type": "point", "shape": "circle", "filled": true, "size": 12, "opacity": 1}, "encoding": {"x": {"datum": -9.224, "axis": null}, "color": {"field": "variant", "type": "nominal", "legend": null}}},
            {"mark": {"type": "text", "align": "left", "baseline": "middle", "fontSize": 9}, "encoding": {"x": {"datum": -8.885, "axis": null}, "text": {"field": "base"}}},
            {"mark": {"type": "text", "align": "left", "baseline": "middle", "fontSize": 6.5, "dx": 25.3, "dy": -3.5}, "encoding": {"x": {"datum": -8.885, "axis": null}, "text": {"field": "sup"}}},
            {"transform": [{"filter": "length(datum.sup) == 4"}], "mark": {"type": "text", "align": "left", "baseline": "middle", "fontSize": 9, "dx": 42.2}, "encoding": {"x": {"datum": -8.885, "axis": null}, "text": {"field": "suffix"}}},
            {"transform": [{"filter": "length(datum.sup) > 4"}], "mark": {"type": "text", "align": "left", "baseline": "middle", "fontSize": 9, "dx": 59.9}, "encoding": {"x": {"datum": -8.885, "axis": null}, "text": {"field": "suffix"}}}
          ]
        }
      ],
      "resolve": {"scale": {"y": "independent"}, "axis": {"x": "independent", "y": "independent"}}
    },
    {
      "width": 203, "height": 145,
      "title": {"text": "C", "dx": -35, "offset": -17.6},
      "layer": [
        {
          "layer": [
            {
              "data": {"name": "fits"},
              "transform": [{"filter": "datum.panel == 'C'"}],
              "mark": {"type": "line", "interpolate": "monotone", "strokeWidth": 1.8},
              "encoding": {
                "x": {"field": "logP", "type": "quantitative", "title": "Log[P-factor] (M)", "scale": {"domain": [-9.48, -4], "nice": false, "zero": false},
                      "axis": {"orient": "bottom", "values": [-9.48, -9, -8, -7, -6, -5, -4], "labelExpr": "datum.value < -9.3 ? '0' : '-' + abs(datum.value)", "labelOverlap": false, "domain": false}},
                "y": {"field": "fit", "type": "quantitative", "title": "Change in Cell Volume (%)", "scale": {"domain": [0, 40], "nice": false, "zero": false},
                      "axis": {"orient": "left", "values": [0, 10, 20, 30, 40], "labelOverlap": false, "domain": false}},
                "color": {"field": "variant", "type": "nominal", "scale": {"domain": ["Mam2-GFP", "G49A", "S53A", "A57G", "G49A,S53A"], "range": ["#36e236", "#1c23c4", "#7424bc", "#111111", "#ee2424"]}, "legend": null}
              }
            },
            {"data": {"values": [{}]}, "mark": {"type": "rule", "color": "black", "strokeWidth": 1.3},
             "encoding": {"x": {"datum": -9.48, "axis": null}, "y": {"datum": 0, "axis": {"orient": "left", "values": [5, 15, 25, 35], "labels": false, "domain": false, "title": null, "tickSize": 3}}, "y2": {"datum": 40}}},
            {"data": {"values": [{}]}, "mark": {"type": "rule", "color": "black", "strokeWidth": 1.3},
             "encoding": {"x": {"datum": -9.48, "axis": {"orient": "bottom", "values": [-9.35, -8.5, -7.5, -6.5, -5.5, -4.5], "labels": false, "domain": false, "title": null, "tickSize": 3}}, "x2": {"datum": -9.35}, "y": {"datum": 0, "axis": null}}},
            {"data": {"values": [{}]}, "mark": {"type": "rule", "color": "black", "strokeWidth": 1.3},
             "encoding": {"x": {"datum": -9.14, "axis": null}, "x2": {"datum": -4}, "y": {"datum": 0, "axis": null}}},
            {
              "data": {"name": "points"},
              "transform": [{"filter": "datum.panel == 'C' && !datum.control"}],
              "mark": {"type": "errorbar", "ticks": true, "size": 5, "thickness": 1},
              "encoding": {
                "x": {"field": "logP", "type": "quantitative", "axis": null},
                "y": {"field": "lo", "type": "quantitative", "axis": null}, "y2": {"field": "hi"},
                "color": {"field": "variant", "type": "nominal", "legend": null}
              }
            },
            {
              "data": {"name": "points"},
              "transform": [{"filter": "datum.panel == 'C' && datum.control"}],
              "mark": {"type": "errorbar", "ticks": true, "size": 15, "thickness": 1.2},
              "encoding": {
                "x": {"field": "logP", "type": "quantitative", "axis": null},
                "y": {"field": "lo", "type": "quantitative", "axis": null}, "y2": {"field": "hi"},
                "color": {"field": "variant", "type": "nominal", "legend": null}
              }
            },
            {
              "data": {"name": "points"},
              "transform": [{"filter": "datum.panel == 'C' && !datum.control"}],
              "mark": {"type": "point", "shape": "square", "filled": true, "size": 18, "opacity": 1},
              "encoding": {
                "x": {"field": "logP", "type": "quantitative", "axis": null},
                "y": {"field": "mean", "type": "quantitative", "axis": null},
                "color": {"field": "variant", "type": "nominal", "legend": null}
              }
            }
          ],
          "resolve": {"axis": {"x": "independent", "y": "independent"}}
        },
        {
          "data": {"name": "legend"},
          "encoding": {"y": {"field": "rank", "type": "quantitative", "scale": {"domain": [1.287, 10.954], "reverse": true, "nice": false, "zero": false}, "axis": null}},
          "layer": [
            {"mark": {"type": "point", "shape": "circle", "filled": true, "size": 12, "opacity": 1}, "encoding": {"x": {"datum": -9.3, "axis": null}, "color": {"field": "variant", "type": "nominal", "legend": null}}},
            {"mark": {"type": "text", "align": "left", "baseline": "middle", "fontSize": 9}, "encoding": {"x": {"datum": -9.003, "axis": null}, "text": {"field": "base"}}},
            {"mark": {"type": "text", "align": "left", "baseline": "middle", "fontSize": 6.5, "dx": 25.3, "dy": -3.5}, "encoding": {"x": {"datum": -9.003, "axis": null}, "text": {"field": "sup"}}},
            {"transform": [{"filter": "length(datum.sup) == 4"}], "mark": {"type": "text", "align": "left", "baseline": "middle", "fontSize": 9, "dx": 42.2}, "encoding": {"x": {"datum": -9.003, "axis": null}, "text": {"field": "suffix"}}},
            {"transform": [{"filter": "length(datum.sup) > 4"}], "mark": {"type": "text", "align": "left", "baseline": "middle", "fontSize": 9, "dx": 59.9}, "encoding": {"x": {"datum": -9.003, "axis": null}, "text": {"field": "suffix"}}}
          ]
        }
      ],
      "resolve": {"scale": {"y": "independent"}, "axis": {"x": "independent", "y": "independent"}}
    },
    {
      "width": 2, "height": 146,
      "data": {"name": "caption"},
      "transform": [{"filter": "datum.line <= 13"}],
      "encoding": {"y": {"field": "line", "type": "quantitative", "scale": {"domain": [1.132, 10.314], "reverse": true, "nice": false, "zero": false}, "axis": null}},
      "layer": [
        {"transform": [{"filter": "datum.bold"}], "mark": {"type": "text", "align": "left", "baseline": "middle", "fontSize": 11.5, "fontWeight": "bold", "color": "#111111", "dx": -22}, "encoding": {"text": {"field": "text"}}},
        {"transform": [{"filter": "!datum.bold"}], "mark": {"type": "text", "align": "left", "baseline": "middle", "fontSize": 11.5, "color": "#111111", "dx": -22}, "encoding": {"text": {"field": "text"}}}
      ]
    },
    {
      "width": 199, "height": 145,
      "title": {"text": "B", "dx": -29, "offset": -5.3},
      "layer": [
        {
          "layer": [
            {
              "data": {"name": "fits"},
              "transform": [{"filter": "datum.panel == 'B'"}],
              "mark": {"type": "line", "interpolate": "monotone", "strokeWidth": 1.8},
              "encoding": {
                "x": {"field": "logP", "type": "quantitative", "title": "Log[P-factor] (M)", "scale": {"domain": [-9.35, -4], "nice": false, "zero": false},
                      "axis": {"orient": "bottom", "values": [-9.35, -9, -8, -7, -6, -5, -4], "labelExpr": "datum.value < -9.3 ? '0' : '-' + abs(datum.value)", "labelOverlap": false, "domain": false}},
                "y": {"field": "fit", "type": "quantitative", "title": "Cell Volume (fl)", "scale": {"domain": [50, 75], "nice": false, "zero": false},
                      "axis": {"orient": "left", "values": [50, 55, 60, 65, 70, 75], "labelOverlap": false, "domain": false}},
                "color": {"field": "variant", "type": "nominal", "scale": {"domain": ["Mam2-GFP", "G49A", "S53A", "A57G", "G49A,S53A"], "range": ["#36e236", "#1c23c4", "#7424bc", "#111111", "#ee2424"]}, "legend": null}
              }
            },
            {"data": {"values": [{}]}, "mark": {"type": "rule", "color": "black", "strokeWidth": 1.3},
             "encoding": {"x": {"datum": -9.35, "axis": null}, "y": {"datum": 50, "axis": {"orient": "left", "values": [52.5, 57.5, 62.5, 67.5, 72.5], "labels": false, "domain": false, "title": null, "tickSize": 3}}, "y2": {"datum": 75}}},
            {"data": {"values": [{}]}, "mark": {"type": "rule", "color": "black", "strokeWidth": 1.3},
             "encoding": {"x": {"datum": -9.35, "axis": {"orient": "bottom", "values": [-9.22, -8.5, -7.5, -6.5, -5.5, -4.5], "labels": false, "domain": false, "title": null, "tickSize": 3}}, "x2": {"datum": -9.22}, "y": {"datum": 50, "axis": null}}},
            {"data": {"values": [{}]}, "mark": {"type": "rule", "color": "black", "strokeWidth": 1.3},
             "encoding": {"x": {"datum": -9.05, "axis": null}, "x2": {"datum": -4}, "y": {"datum": 50, "axis": null}}},
            {
              "data": {"name": "points"},
              "transform": [{"filter": "datum.panel == 'B'"}],
              "mark": {"type": "errorbar", "ticks": true, "size": 5, "thickness": 1},
              "encoding": {
                "x": {"field": "logP", "type": "quantitative", "axis": null},
                "y": {"field": "lo", "type": "quantitative", "axis": null}, "y2": {"field": "hi"},
                "color": {"field": "variant", "type": "nominal", "legend": null}
              }
            },
            {
              "data": {"name": "points"},
              "transform": [{"filter": "datum.panel == 'B'"}],
              "mark": {"type": "point", "shape": "square", "filled": true, "size": 18, "opacity": 1},
              "encoding": {
                "x": {"field": "logP", "type": "quantitative", "axis": null},
                "y": {"field": "mean", "type": "quantitative", "axis": null},
                "color": {"field": "variant", "type": "nominal", "legend": null}
              }
            }
          ],
          "resolve": {"axis": {"x": "independent", "y": "independent"}}
        },
        {
          "data": {"name": "legend"},
          "encoding": {"y": {"field": "rank", "type": "quantitative", "scale": {"domain": [1.397, 12.059], "reverse": true, "nice": false, "zero": false}, "axis": null}},
          "layer": [
            {"mark": {"type": "point", "shape": "circle", "filled": true, "size": 12, "opacity": 1}, "encoding": {"x": {"datum": -9.208, "axis": null}, "color": {"field": "variant", "type": "nominal", "legend": null}}},
            {"mark": {"type": "text", "align": "left", "baseline": "middle", "fontSize": 9}, "encoding": {"x": {"datum": -8.912, "axis": null}, "text": {"field": "base"}}},
            {"mark": {"type": "text", "align": "left", "baseline": "middle", "fontSize": 6.5, "dx": 25.3, "dy": -3.5}, "encoding": {"x": {"datum": -8.912, "axis": null}, "text": {"field": "sup"}}},
            {"transform": [{"filter": "length(datum.sup) == 4"}], "mark": {"type": "text", "align": "left", "baseline": "middle", "fontSize": 9, "dx": 42.2}, "encoding": {"x": {"datum": -8.912, "axis": null}, "text": {"field": "suffix"}}},
            {"transform": [{"filter": "length(datum.sup) > 4"}], "mark": {"type": "text", "align": "left", "baseline": "middle", "fontSize": 9, "dx": 59.9}, "encoding": {"x": {"datum": -8.912, "axis": null}, "text": {"field": "suffix"}}}
          ]
        }
      ],
      "resolve": {"scale": {"y": "independent"}, "axis": {"x": "independent", "y": "independent"}}
    },
    {
      "width": 200, "height": 138,
      "title": {"text": "D", "dx": -36, "offset": 20.2},
      "layer": [
        {
          "data": {"name": "tableGrid"},
          "transform": [{"filter": "datum.dir == 'h'"}],
          "mark": {"type": "rule", "color": "#8c8c8c", "strokeWidth": 1},
          "encoding": {
            "x": {"datum": 0, "type": "quantitative", "scale": {"domain": [0, 1, 2, 3, 4, 5], "range": [-36, 35, 86, 127, 183, 210], "nice": false, "zero": false}, "axis": null},
            "x2": {"datum": 5},
            "y": {"field": "edge", "type": "quantitative", "scale": {"domain": [0, 1, 2, 3, 4, 5, 6, 7], "range": [47, 62, 73, 85, 98, 111, 124, 138], "nice": false, "zero": false}, "axis": null}
          }
        },
        {
          "data": {"name": "tableGrid"},
          "transform": [{"filter": "datum.dir == 'v'"}],
          "mark": {"type": "rule", "color": "#8c8c8c", "strokeWidth": 1},
          "encoding": {
            "x": {"field": "edge", "type": "quantitative"},
            "y": {"field": "from", "type": "quantitative"},
            "y2": {"field": "to"}
          }
        },
        {
          "data": {"name": "tableHead"},
          "transform": [{"filter": "datum.sub != ''"}],
          "mark": {"type": "text", "align": "right", "baseline": "middle", "fontSize": 7, "fontWeight": "bold", "dx": 4, "dy": 7.5},
          "encoding": {"x": {"field": "col", "type": "quantitative"}, "y": {"field": "row", "type": "quantitative"}, "text": {"field": "text"}}
        },
        {
          "data": {"name": "tableHead"},
          "transform": [{"filter": "datum.sub != ''"}],
          "mark": {"type": "text", "align": "left", "baseline": "middle", "fontSize": 5, "fontWeight": "bold", "dx": 4, "dy": 9.5},
          "encoding": {"x": {"field": "col", "type": "quantitative"}, "y": {"field": "row", "type": "quantitative"}, "text": {"field": "sub"}}
        },
        {
          "data": {"name": "tableHead"},
          "transform": [{"filter": "datum.row == 0 && datum.sub == ''"}],
          "mark": {"type": "text", "align": "center", "baseline": "middle", "fontSize": 7, "fontWeight": "bold", "dy": 7.5},
          "encoding": {"x": {"field": "col", "type": "quantitative"}, "y": {"field": "row", "type": "quantitative"}, "text": {"field": "text"}}
        },
        {
          "data": {"name": "tableHead"},
          "transform": [{"filter": "datum.row == 1 && datum.text == 'Transcription'"}],
          "mark": {"type": "text", "align": "left", "baseline": "middle", "fontSize": 7, "fontWeight": "bold", "dx": 3, "dy": 5.5},
          "encoding": {"x": {"field": "col", "type": "quantitative"}, "y": {"field": "row", "type": "quantitative"}, "text": {"field": "text"}}
        },
        {
          "data": {"name": "tableHead"},
          "transform": [{"filter": "datum.row == 1 && datum.text == 'Shmoo'"}],
          "mark": {"type": "text", "align": "left", "baseline": "middle", "fontSize": 7, "fontWeight": "bold", "dx": 9, "dy": 5.5},
          "encoding": {"x": {"field": "col", "type": "quantitative"}, "y": {"field": "row", "type": "quantitative"}, "text": {"field": "text"}}
        },
        {
          "data": {"name": "tableCells"},
          "mark": {"type": "text", "align": "left", "baseline": "middle", "fontSize": 7, "color": "#1e1e1e", "dx": 2.5, "dy": 6.5},
          "encoding": {"x": {"field": "col", "type": "quantitative"}, "y": {"field": "row", "type": "quantitative"}, "text": {"field": "text"}}
        },
        {
          "data": {"name": "tableNames"},
          "mark": {"type": "text", "align": "left", "baseline": "middle", "fontSize": 7, "fontWeight": "bold", "dx": 2, "dy": 6.5},
          "encoding": {"x": {"datum": 0}, "y": {"field": "row", "type": "quantitative"}, "text": {"field": "base"}}
        },
        {
          "data": {"name": "tableNames"},
          "mark": {"type": "text", "align": "left", "baseline": "middle", "fontSize": 4.5, "fontWeight": "bold", "dx": 22.1, "dy": 4},
          "encoding": {"x": {"datum": 0}, "y": {"field": "row", "type": "quantitative"}, "text": {"field": "sup"}}
        },
        {
          "data": {"name": "tableNames"},
          "transform": [{"filter": "length(datum.sup) == 4"}],
          "mark": {"type": "text", "align": "left", "baseline": "middle", "fontSize": 7, "fontWeight": "bold", "dx": 34.2, "dy": 6.5},
          "encoding": {"x": {"datum": 0}, "y": {"field": "row", "type": "quantitative"}, "text": {"field": "suffix"}}
        },
        {
          "data": {"name": "tableNames"},
          "transform": [{"filter": "length(datum.sup) > 4"}],
          "mark": {"type": "text", "align": "left", "baseline": "middle", "fontSize": 7, "fontWeight": "bold", "dx": 46.7, "dy": 6.5},
          "encoding": {"x": {"datum": 0}, "y": {"field": "row", "type": "quantitative"}, "text": {"field": "suffix"}}
        }
      ]
    },
    {
      "width": 2, "height": 145,
      "data": {"name": "caption"},
      "transform": [{"filter": "datum.line >= 14"}],
      "encoding": {"y": {"field": "line", "type": "quantitative", "scale": {"domain": [13.899, 23.019], "reverse": true, "nice": false, "zero": false}, "axis": null}},
      "layer": [
        {"mark": {"type": "text", "align": "left", "baseline": "middle", "fontSize": 11.5, "color": "#111111", "dx": -22}, "encoding": {"text": {"field": "text"}}}
      ]
    }
  ],
  "columns": 3,
  "bounds": "flush",
  "align": "all",
  "spacing": {"row": 57, "column": 41}
}
